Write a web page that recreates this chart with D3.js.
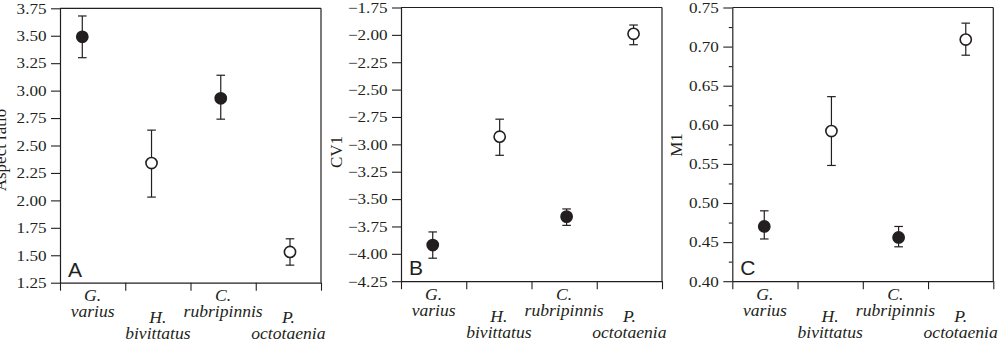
<!DOCTYPE html>
<html>
<head>
<meta charset="utf-8">
<script src="https://cdn.jsdelivr.net/npm/d3@7"></script>
<style>
  html, body { margin: 0; padding: 0; background: #fff; }
  svg { display: block; }
</style>
</head>
<body>
<svg id="chart" width="1002" height="348"></svg>
<script>
// ---- data ----
const categories = [["G.", "varius"], ["H.", "bivittatus"], ["C.", "rubripinnis"], ["P.", "octotaenia"]];
const filled = [true, false, true, false];

const aspectMean = [3.49, 2.34, 2.93, 1.53];
const aspectLow  = [3.30, 2.03, 2.74, 1.41];
const aspectHigh = [3.68, 2.64, 3.14, 1.65];
const aspectTicks = [1.25, 1.50, 1.75, 2.00, 2.25, 2.50, 2.75, 3.00, 3.25, 3.50, 3.75];

const cv1Mean = [-3.92, -2.93, -3.66, -1.99];
const cv1Low  = [-4.04, -3.10, -3.74, -2.09];
const cv1High = [-3.80, -2.77, -3.59, -1.91];
const cv1Ticks = [-4.25, -4.00, -3.75, -3.50, -3.25, -3.00, -2.75, -2.50, -2.25, -2.00, -1.75];

const m1Mean = [0.470, 0.592, 0.456, 0.709];
const m1Low  = [0.454, 0.548, 0.444, 0.689];
const m1High = [0.490, 0.636, 0.470, 0.730];
const m1Ticks = [0.40, 0.45, 0.50, 0.55, 0.60, 0.65, 0.70, 0.75];
const m1Minor = [0.425, 0.475, 0.525, 0.575, 0.625, 0.675, 0.725];

const panelLetters = ["A", "B", "C"];
const yTitles = ["Aspect ratio", "CV1", "M1"];

// ---- layout ----
const panels = [
  { left: 60,    top: 8.3, bottom: 282.7, xdom: [-0.322, 3.448], ydom: [1.25, 3.75], ticks: aspectTicks, minor: [], mean: aspectMean, lo: aspectLow, hi: aspectHigh, titleX: -54.5, titleY: 150 },
  { left: 401,   top: 7.5, bottom: 281.2, xdom: [-0.474, 3.425], ydom: [-4.25, -1.75], ticks: cv1Ticks, minor: [], mean: cv1Mean, lo: cv1Low, hi: cv1High, titleX: -59.5, titleY: 152 },
  { left: 732.3, top: 7.5, bottom: 281.2, xdom: [-0.476, 3.41], ydom: [0.40, 0.75], ticks: m1Ticks, minor: m1Minor, mean: m1Mean, lo: m1Low, hi: m1High, titleX: -50.5, titleY: 145 }
];
const W = 261;
const ink = "#231f20";
const serif = "'Liberation Serif', 'Times New Roman', Times, serif";
const sans = "'Liberation Sans', Arial, Helvetica, sans-serif";
const tickStretch = 1.14;
const labelStretch = 1.1;

const svg = d3.select("#chart");

panels.forEach((p, pi) => {
  const g = svg.append("g").attr("transform", `translate(${p.left},0)`);
  const y = d3.scaleLinear().domain(p.ydom).range([p.bottom, p.top]);
  const x = d3.scaleLinear().domain(p.xdom).range([0, W]);
  const band = d3.scaleBand().domain(d3.range(categories.length)).range([0, W]).padding(0);

  // box: top and right lines
  g.append("line").attr("x1", 0).attr("x2", W).attr("y1", p.top).attr("y2", p.top)
    .attr("stroke", ink).attr("stroke-width", 1.2);
  g.append("line").attr("x1", W).attr("x2", W).attr("y1", p.top).attr("y2", p.bottom)
    .attr("stroke", ink).attr("stroke-width", 1.2);

  // minor ticks
  if (p.minor.length) {
    const minorAxis = d3.axisLeft(y).tickValues(p.minor).tickSize(3.5).tickFormat("");
    const mg = g.append("g").call(minorAxis);
    mg.select(".domain").remove();
    mg.selectAll("line").attr("stroke", ink).attr("stroke-width", 1.1);
  }

  // y axis
  const yAxis = d3.axisLeft(y).tickValues(p.ticks).tickSize(9).tickPadding(4.5)
    .tickFormat(d3.format(".2f")).tickSizeOuter(0);
  const ya = g.append("g").call(yAxis);
  ya.attr("font-family", null).attr("font-size", null);
  ya.select(".domain").attr("stroke", ink).attr("stroke-width", 1.2);
  ya.selectAll(".tick line").attr("stroke", ink).attr("stroke-width", 1.1);
  ya.selectAll(".tick text")
    .attr("x", 0)
    .attr("transform", `translate(${-13.5},0) scale(${tickStretch},1)`)
    .style("font-family", serif).style("font-size", "15px").attr("fill", ink);

  // x axis: ticks at band boundaries
  const xb = d3.scaleLinear().domain([0, categories.length]).range([0, W]);
  const xAxis = d3.axisBottom(xb).tickValues(d3.range(categories.length + 1)).tickSize(8)
    .tickFormat("").tickSizeOuter(0);
  const xa = g.append("g").attr("transform", `translate(0,${p.bottom})`).call(xAxis);
  xa.select(".domain").attr("stroke", ink).attr("stroke-width", 1.2);
  xa.selectAll(".tick line").attr("stroke", ink).attr("stroke-width", 1.1);

  // category labels
  categories.forEach((c, i) => {
    const cx = band(i) + band.bandwidth() / 2;
    const base = i % 2 === 0 ? p.bottom + 18.5 : p.bottom + 40.5;
    const t = g.append("text")
      .attr("transform", `translate(${cx},${base}) scale(${labelStretch},1)`)
      .attr("text-anchor", "middle")
      .style("font-family", serif).style("font-style", "italic").style("font-size", "16px")
      .attr("fill", ink);
    t.append("tspan").attr("x", 0).attr("dy", 0).text(c[0]);
    t.append("tspan").attr("x", 0).attr("dy", 16).text(c[1]);
  });

  // y title
  g.append("text")
    .attr("transform", `translate(${p.titleX},${p.titleY}) rotate(-90)`)
    .attr("text-anchor", "middle")
    .style("font-family", serif).style("font-size", "17px")
    .attr("fill", ink).text(yTitles[pi]);

  // panel letter
  g.append("text").attr("x", 8).attr("y", p.bottom - 6)
    .style("font-family", sans).style("font-size", "21px")
    .attr("fill", ink).text(panelLetters[pi]);

  // error bars
  const idx = d3.range(categories.length);
  const eb = g.append("g");
  eb.selectAll("line.v").data(idx).join("line").attr("class", "v")
    .attr("x1", i => x(i)).attr("x2", i => x(i))
    .attr("y1", i => y(p.lo[i])).attr("y2", i => y(p.hi[i]))
    .attr("stroke", ink).attr("stroke-width", 1.2);
  eb.selectAll("line.cl").data(idx).join("line").attr("class", "cl")
    .attr("x1", i => x(i) - 4.3).attr("x2", i => x(i) + 4.3)
    .attr("y1", i => y(p.lo[i])).attr("y2", i => y(p.lo[i]))
    .attr("stroke", ink).attr("stroke-width", 1.2);
  eb.selectAll("line.ch").data(idx).join("line").attr("class", "ch")
    .attr("x1", i => x(i) - 4.3).attr("x2", i => x(i) + 4.3)
    .attr("y1", i => y(p.hi[i])).attr("y2", i => y(p.hi[i]))
    .attr("stroke", ink).attr("stroke-width", 1.2);

  // points
  g.selectAll("circle").data(idx).join("circle")
    .attr("cx", i => x(i)).attr("cy", i => y(p.mean[i])).attr("r", 5.6)
    .attr("fill", i => filled[i] ? ink : "#fff")
    .attr("stroke", ink).attr("stroke-width", 1.6);
});
</script>
</body>
</html>
